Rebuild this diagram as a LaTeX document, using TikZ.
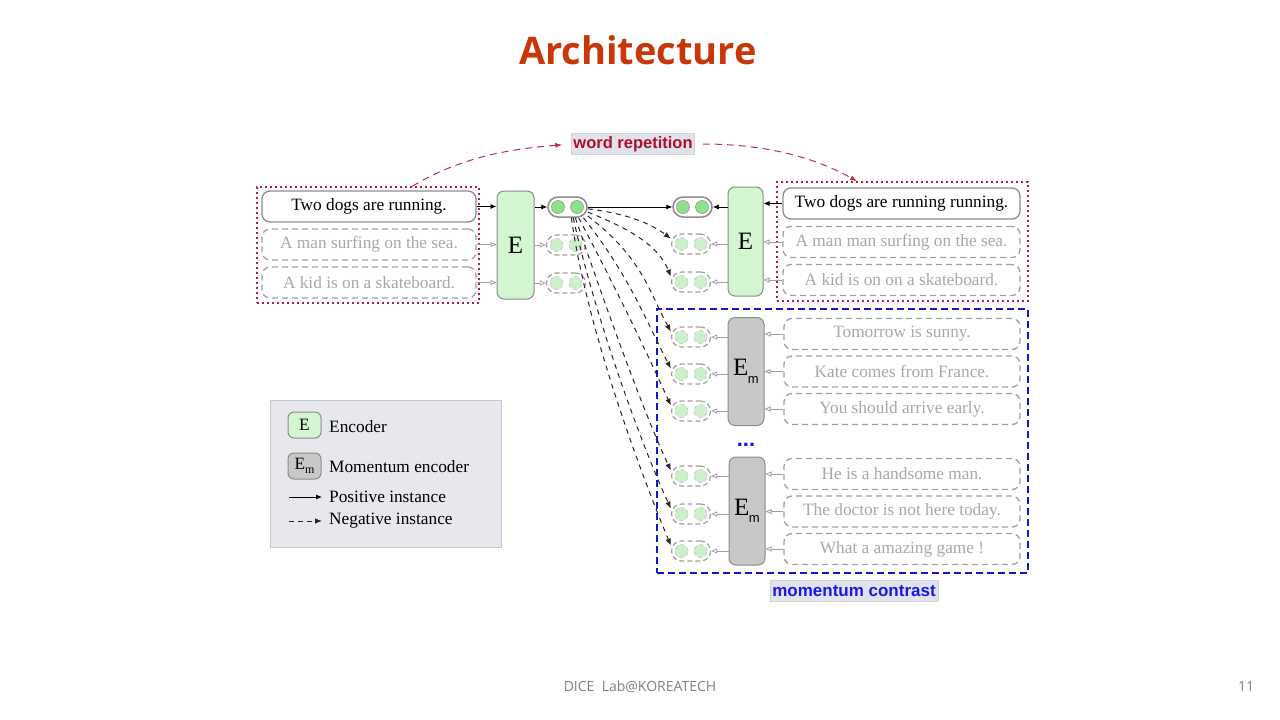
\documentclass[tikz,border=0pt]{standalone}
\usepackage{fontspec}
\setmainfont{Liberation Serif}
\newfontfamily\titlefont{Open Sans}
\newfontfamily\lblfont{Liberation Sans}
\usetikzlibrary{arrows.meta,fit}
\definecolor{titlered}{RGB}{200,55,10}
\definecolor{encgreen}{RGB}{212,245,210}
\definecolor{dotgreen}{RGB}{140,226,140}
\definecolor{palegreen}{RGB}{205,240,203}
\definecolor{mgray}{RGB}{200,200,200}
\definecolor{boxgray}{RGB}{140,140,140}
\definecolor{textgray}{RGB}{168,168,168}
\definecolor{arrgray}{RGB}{160,160,160}
\definecolor{wrred}{RGB}{176,16,48}
\definecolor{arcred}{RGB}{192,48,72}
\definecolor{dotred}{RGB}{176,32,58}
\definecolor{mcblue}{RGB}{26,26,230}
\definecolor{boxblue}{RGB}{21,21,208}
\definecolor{lblbg}{RGB}{226,226,234}
\definecolor{legbg}{RGB}{230,232,238}
\definecolor{legborder}{RGB}{200,200,204}
\definecolor{footgray}{RGB}{128,128,128}
\newcommand\mkpair[4]{%
  \node[#1] (#3) at #4 {};
  \node[#2] (#3a) at ([xshift=-9.5pt]#3.center) {};
  \node[#2] (#3b) at ([xshift=9.5pt]#3.center) {};
}
\newcommand\Emlabel{E\kern-0.5pt\raisebox{-0.3em}{\fontsize{13}{13}\lblfont m}}
\begin{document}
\begin{tikzpicture}[x=1pt,y=-1pt,
  sentpos/.style={draw=boxgray, line width=1.3pt, rounded corners=8pt, fill=white,
    minimum height=31pt, inner sep=0pt, font=\fontsize{17.3}{20}\selectfont, text=black},
  sentneg/.style={sentpos, dash pattern=on 6pt off 4pt, draw=arrgray, text=textgray},
  enc/.style={draw=boxgray, fill=encgreen, rounded corners=7pt, line width=1pt,
    minimum width=36pt, minimum height=108pt, inner sep=0pt, font=\fontsize{25}{25}\selectfont},
  menc/.style={enc, fill=mgray},
  pospair/.style={draw=boxgray, fill=white, rounded corners=10pt, line width=1.5pt,
    minimum width=39pt, minimum height=20pt, inner sep=0pt},
  negpair/.style={pospair, line width=1.2pt, draw=arrgray, dash pattern=on 5pt off 3pt},
  poscirc/.style={circle, fill=dotgreen, draw=gray!80, line width=0.6pt, minimum size=13pt, inner sep=0pt},
  negcirc/.style={circle, fill=palegreen, draw=gray!45, dash pattern=on 4pt off 3pt, line width=0.6pt, minimum size=13pt, inner sep=0pt},
  posarrow/.style={-{Latex[length=6pt,width=5pt]}, line width=0.8pt, draw=black},
  grayarrow/.style={-{Triangle[open,length=6pt,width=5pt]}, line width=0.8pt, draw=arrgray},
  negarrow/.style={-{Latex[length=7pt,width=5.5pt]}, line width=1pt, draw=black!85, dash pattern=on 5pt off 4.5pt},
  redarc/.style={-{Latex[length=7pt,width=5pt]}, line width=1pt, draw=arcred, dash pattern=on 7pt off 5pt},
  tag/.style={fill=lblbg, draw=lblbg!85!gray, inner sep=2pt, minimum height=21pt, font=\lblfont\bfseries\fontsize{16.5}{18}\selectfont},
  legtext/.style={anchor=west, inner sep=0pt, font=\fontsize{17.3}{20}\selectfont}
]
\useasboundingbox[fill=white] (0,0) rectangle (1280,720);

% title and footer
\node[font=\titlefont\bfseries\fontsize{38}{44}\selectfont, text=titlered] (title) at (638,50) {Architecture};
\node[font=\titlefont\fontsize{14}{16}\selectfont, text=footgray] (foot) at (640,687) {DICE~ Lab@KOREATECH};
\node[font=\titlefont\fontsize{14}{16}\selectfont, text=footgray] (pg) at (1246,686) {11};

% left column
\node[sentpos, minimum width=214pt] (ls0) at (369,206.5) {Two dogs are running.};
\node[sentneg, minimum width=214pt] (ls1) at (369,244.5) {A man surfing on the sea.};
\node[sentneg, minimum width=214pt] (ls2) at (369,282.5) {A kid is on a skateboard.};
\coordinate (lba) at (257,187); \coordinate (lbb) at (479,303);
\node[fit=(lba)(lbb), inner sep=0pt, draw=dotred, line width=1.5pt, dash pattern=on 2pt off 3pt] (lbox) {};
\node[enc, minimum width=37pt] (le) at (515.5,245) {E};
\mkpair{pospair}{poscirc}{lp0}{(567.5,207)}
\mkpair{negpair}{negcirc}{lp1}{(566,245)}
\mkpair{negpair}{negcirc}{lp2}{(566,283)}

% right column
\node[sentpos, minimum width=237pt] (rs0) at (901.5,203.5) {Two dogs are running running.};
\node[sentneg, minimum width=237pt] (rs1) at (901.5,242) {A man man surfing on the sea.};
\node[sentneg, minimum width=237pt] (rs2) at (901.5,280) {A kid is on on a skateboard.};
\coordinate (rba) at (777,182); \coordinate (rbb) at (1028,301);
\node[fit=(rba)(rbb), inner sep=0pt, draw=dotred, line width=1.5pt, dash pattern=on 2pt off 3pt] (rbox) {};
\node[enc, minimum width=35pt, minimum height=109pt] (re) at (745.5,241.5) {E};
\mkpair{pospair}{poscirc}{rp0}{(692.5,207)}
\mkpair{negpair}{negcirc}{rp1}{(691,244)}
\mkpair{negpair}{negcirc}{rp2}{(691,282)}

% momentum contrast block
\coordinate (mba) at (657,309); \coordinate (mbb) at (1028,573);
\node[fit=(mba)(mbb), inner sep=0pt, draw=boxblue, line width=1.5pt, dash pattern=on 7pt off 4pt] (mbox) {};
\node[menc] (m1) at (746,371.5) {\Emlabel};
\node[menc] (m2) at (747,511) {\Emlabel};
\node[sentneg, minimum width=236pt] (ms1) at (902,334) {Tomorrow is sunny.};
\node[sentneg, minimum width=236pt] (ms2) at (902,371.5) {Kate comes from France.};
\node[sentneg, minimum width=236pt] (ms3) at (902,409) {You should arrive early.};
\node[sentneg, minimum width=236pt] (ms4) at (902,474) {He is a handsome man.};
\node[sentneg, minimum width=236pt] (ms5) at (902,511.5) {The doctor is not here today.};
\node[sentneg, minimum width=236pt] (ms6) at (902,549) {What a amazing game !};
\mkpair{negpair}{negcirc}{mp1}{(691,337)}
\mkpair{negpair}{negcirc}{mp2}{(691,374)}
\mkpair{negpair}{negcirc}{mp3}{(691,411)}
\mkpair{negpair}{negcirc}{mp4}{(691,476)}
\mkpair{negpair}{negcirc}{mp5}{(691,514)}
\mkpair{negpair}{negcirc}{mp6}{(691,551)}
\node[text=boxblue, font=\lblfont\bfseries\fontsize{22}{22}\selectfont, inner sep=0pt] (dots) at (746,445) {...};

% tags
\node[tag, text=wrred] (wr) at (633,144) {word repetition};
\node[tag, text=mcblue, font=\lblfont\bfseries\fontsize{17}{18}\selectfont] (mc) at (854,591) {momentum contrast};

% left arrows
\draw[posarrow] (ls0.east) -- (ls0.east -| le.west);
\draw[grayarrow] (ls1.east) -- (ls1.east -| le.west);
\draw[grayarrow] (ls2.east) -- (ls2.east -| le.west);
\draw[posarrow] (le.east |- lp0) -- (lp0.west);
\draw[grayarrow] (le.east |- lp1) -- (lp1.west);
\draw[grayarrow] (le.east |- lp2) -- (lp2.west);

% right arrows
\draw[posarrow] (rs0.west) -- (rs0.west -| re.east);
\draw[grayarrow] (rs1.west) -- (rs1.west -| re.east);
\draw[grayarrow] (rs2.west) -- (rs2.west -| re.east);
\draw[posarrow] (re.west |- rp0) -- (rp0.east);
\draw[grayarrow] (re.west |- rp1) -- (rp1.east);
\draw[grayarrow] (re.west |- rp2) -- (rp2.east);

% momentum arrows
\foreach \s/\p/\e in {ms1/mp1/m1, ms2/mp2/m1, ms3/mp3/m1, ms4/mp4/m2, ms5/mp5/m2, ms6/mp6/m2}{
  \draw[grayarrow] (\s.west) -- (\s.west -| \e.east);
  \draw[grayarrow] (\e.west |- \p) -- (\p.east);
}

% positive and negative instance arrows
\draw[posarrow] (lp0.east) -- (rp0.west);
\draw[negarrow] (lp0.-5)  .. controls +(40,5)   and +(-20,-15) .. (rp1.165);
\draw[negarrow] (lp0.-14) .. controls +(45,18)  and +(-12,-30) .. (rp2.165);
\draw[negarrow] (lp0.-24) .. controls +(55,42)  and +(-22,-40) .. (mp1.165);
\draw[negarrow] (lp0.-34) .. controls +(46,58)  and +(-25,-48) .. (mp2.165);
\draw[negarrow] (lp0.-44) .. controls +(38,72)  and +(-25,-55) .. (mp3.165);
\draw[negarrow] (lp0.-54) .. controls +(30,88)  and +(-28,-60) .. (mp4.165);
\draw[negarrow] (lp0.-62) .. controls +(22,100) and +(-30,-65) .. (mp5.165);
\draw[negarrow] (lp0.-70) .. controls +(15,110) and +(-30,-72) .. (mp6.165);

% word repetition arcs
\draw[redarc, shorten >=9pt] (lbox.53) .. controls +(50,-30) and +(-60,5) .. (wr.west);
\draw[redarc, shorten <=8pt] (wr.east) .. controls +(60,0) and +(-50,-28) .. (rbox.127);

% legend
\coordinate (lga) at (270,400); \coordinate (lgb) at (501,547);
\node[fit=(lga)(lgb), inner sep=0pt, fill=legbg, draw=legborder, line width=0.8pt] (legend) {};
\node[enc, minimum width=33pt, minimum height=26pt, rounded corners=6pt, font=\fontsize{17.3}{20}\selectfont] (lgE) at (304.5,425) {E};
\node[menc, minimum width=33pt, minimum height=26pt, rounded corners=6pt, font=\fontsize{17.3}{20}\selectfont] (lgEm) at (304.5,466) {E\raisebox{-0.25em}{\fontsize{12}{12}\selectfont m}};
\node[legtext] (lt1) at (329,427) {Encoder};
\node[legtext] (lt2) at (329,467) {Momentum encoder};
\coordinate (pa1) at (289,497); \coordinate (pa2) at (322,497);
\coordinate (na1) at (289,521); \coordinate (na2) at (322,521);
\draw[posarrow, line width=0.8pt] (pa1) -- (pa2);
\draw[negarrow, line width=0.8pt, dash pattern=on 5pt off 4pt] (na1) -- (na2);
\node[legtext] (lt3) at (329,497) {Positive instance};
\node[legtext] (lt4) at (329,521) {Negative instance};
\end{tikzpicture}
\end{document}
